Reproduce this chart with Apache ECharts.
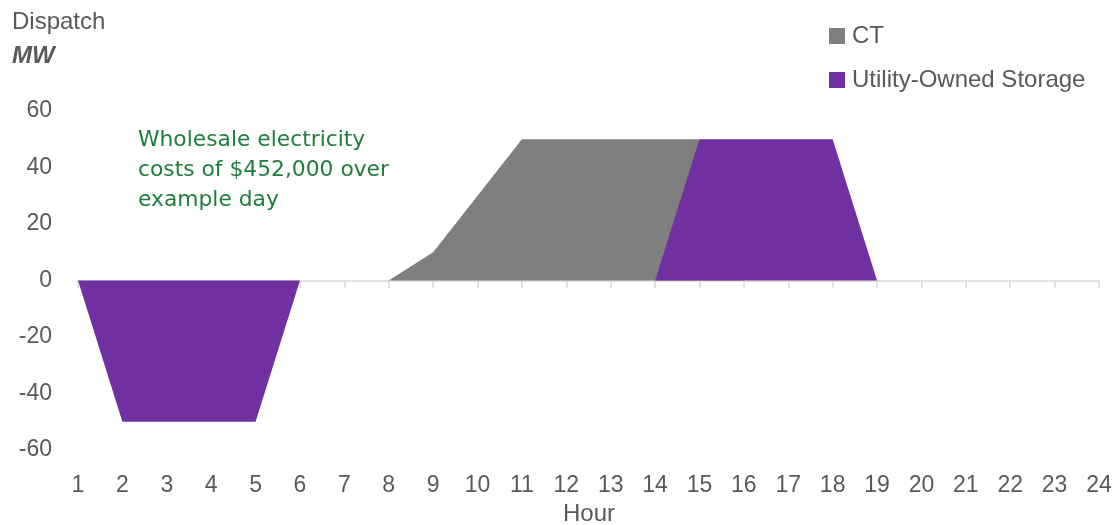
<!DOCTYPE html>
<html>
<head>
<meta charset="utf-8">
<script src="https://cdn.jsdelivr.net/npm/echarts@6/dist/echarts.min.js"></script>
<style>html,body{margin:0;padding:0;background:#fff;}#c{width:1117px;height:525px;}</style>
</head>
<body>
<div id="c"></div>
<script>
const hours = ['1','2','3','4','5','6','7','8','9','10','11','12','13','14','15','16','17','18','19','20','21','22','23','24'];
const ctValues = [0,0,0,0,0,0,0,0,10,30,50,50,50,50,50,0,0,0,0,0,0,0,0,0];
const storageValues = [0,-50,-50,-50,-50,0,0,0,0,0,0,0,0,0,50,50,50,50,0,0,0,0,0,0];
const yTicks = {min:-60, max:60, interval:20};

const FONT = '"Liberation Sans", Arial, sans-serif';
const GREY_TXT = '#595959';
const chart = echarts.init(document.getElementById('c'), null, {renderer:'canvas'});
chart.setOption({
  animation:false,
  backgroundColor:'#ffffff',
  textStyle:{fontFamily:FONT},
  grid:{left:78, right:18, top:111, bottom:75, containLabel:false},
  legend:{
    orient:'vertical', left:829, top:24, padding:0, itemWidth:16, itemHeight:16, itemGap:20,
    icon:'rect',
    textStyle:{fontFamily:FONT, fontSize:24, lineHeight:22, color:GREY_TXT, padding:[0,0,0,2]},
    data:['CT','Utility-Owned Storage']
  },
  xAxis:[
    {type:'category', data:hours, boundaryGap:false,
     axisLine:{onZero:true, lineStyle:{color:'#D9D9D9', width:1.5}},
     axisTick:{show:true, inside:false, length:8, lineStyle:{color:'#D9D9D9', width:1.5}},
     axisLabel:{show:false}, splitLine:{show:false}},
    {type:'category', data:hours, boundaryGap:false, position:'bottom',
     axisLine:{show:false, onZero:false}, axisTick:{show:false},
     axisLabel:{show:true, fontFamily:FONT, fontSize:23, color:GREY_TXT, margin:24},
     splitLine:{show:false}}
  ],
  yAxis:{
    type:'value', min:yTicks.min, max:yTicks.max, interval:yTicks.interval,
    axisLine:{show:false}, axisTick:{show:false}, splitLine:{show:false},
    axisLabel:{fontFamily:FONT, fontSize:23, color:GREY_TXT, margin:26}
  },
  series:[
    {name:'CT', type:'line', data:ctValues, xAxisIndex:0, symbol:'none', showSymbol:false,
     itemStyle:{color:'#7F7F7F'}, lineStyle:{width:0, color:'#7F7F7F'},
     areaStyle:{color:'#7F7F7F', opacity:1}, z:2},
    {name:'Utility-Owned Storage', type:'line', data:storageValues, xAxisIndex:0, symbol:'none', showSymbol:false,
     itemStyle:{color:'#7030A0'}, lineStyle:{width:0, color:'#7030A0'},
     areaStyle:{color:'#7030A0', opacity:1}, z:3}
  ],
  graphic:[
    {type:'text', x:12, y:10, style:{text:'Dispatch', font:'24px '+FONT, fill:GREY_TXT}},
    {type:'text', x:12, y:44, style:{text:'MW', font:'italic bold 24px '+FONT, fill:GREY_TXT}},
    {type:'text', x:138, y:125, style:{text:'Wholesale electricity\ncosts of $452,000 over\nexample day', font:'21.8px "DejaVu Sans", sans-serif', fill:'#1F7D3E', lineHeight:30}},
    {type:'text', x:589, y:502, style:{text:'Hour', font:'24px '+FONT, fill:GREY_TXT, align:'center'}}
  ]
});
</script>
</body>
</html>
